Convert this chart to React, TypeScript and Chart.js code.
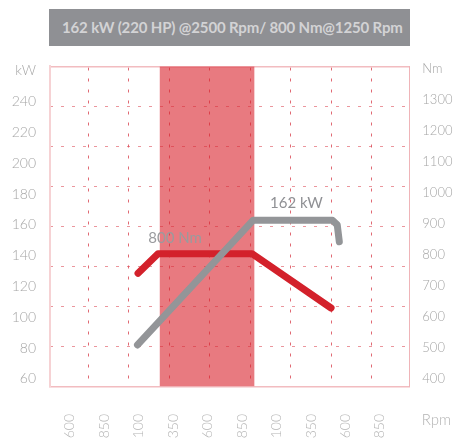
import React, { useEffect, useRef } from "react";
import { Chart, registerables } from "chart.js";

Chart.register(...registerables);

// ---- data ----
const titleText = "162 kW (220 HP) @2500 Rpm/ 800 Nm@1250 Rpm";
const rpmTicks = [600, 850, 1100, 1350, 1600, 1850, 2100, 2350, 2600, 2850];
const kwTicks = [60, 80, 100, 120, 140, 160, 180, 200, 220, 240, 260];
const nmTicks = [400, 500, 600, 700, 800, 900, 1000, 1100, 1200, 1300, 1400];
const kwUnitTick = 260;
const nmUnitTick = 1400;

const powerRpm = [1090, 1930, 2505, 2540, 2555];
const powerKw = [82, 163, 163, 160, 149];
const torqueRpm = [1094, 1239, 1921, 2495];
const torqueNm = [740, 803, 803, 628];
const bandRpm = [1250, 1940];

const powerLabel = { text: "162 kW", rpm: 2052, kw: 174 };
const torqueLabel = { text: "800 Nm", rpm: 1168, nm: 853 };

export default function App() {
  const ref = useRef<HTMLCanvasElement | null>(null);

  useEffect(() => {
    const canvas = ref.current;
    if (!canvas) return;

    const annotations = {
      id: "annotations",
      afterDatasetsDraw(chart: any) {
        const { ctx, scales, chartArea } = chart;
        ctx.save();
        ctx.textBaseline = "middle";
        ctx.textAlign = "left";
        ctx.font = "15px Lato";
        ctx.fillStyle = "#9a9b9e";
        ctx.fillText(
          torqueLabel.text,
          scales.x.getPixelForValue(torqueLabel.rpm),
          scales.y1.getPixelForValue(torqueLabel.nm)
        );
        ctx.fillStyle = "#8f9094";
        ctx.fillText(
          powerLabel.text,
          scales.x.getPixelForValue(powerLabel.rpm),
          scales.y.getPixelForValue(powerLabel.kw)
        );
        ctx.font = "300 15px Lato";
        ctx.fillStyle = "#b3b3b3";
        ctx.fillText("Rpm", chartArea.right + 12.4, chartArea.bottom + 33.5);
        ctx.restore();
      },
    };

    const pinkGridV = "rgba(214, 55, 68, 0.75)";
    const pinkGridH = "rgba(222, 80, 92, 0.6)";

    const chart = new Chart(canvas, {
      type: "line",
      data: {
        datasets: [
          {
            label: "kW",
            data: powerRpm.map((x, i) => ({ x, y: powerKw[i] })),
            xAxisID: "x",
            yAxisID: "y",
            borderColor: "#939598",
            borderWidth: 7,
            borderCapStyle: "round",
            borderJoinStyle: "round",
            pointRadius: 0,
            fill: false,
          },
          {
            label: "Nm",
            data: torqueRpm.map((x, i) => ({ x, y: torqueNm[i] })),
            xAxisID: "x",
            yAxisID: "y1",
            borderColor: "#d3212b",
            borderWidth: 7,
            borderCapStyle: "round",
            borderJoinStyle: "round",
            pointRadius: 0,
            fill: false,
          },
          {
            label: "band",
            data: bandRpm.map((x) => ({ x, y: 8 })),
            xAxisID: "x",
            yAxisID: "yg",
            borderWidth: 0,
            borderColor: "rgba(0,0,0,0)",
            backgroundColor: "rgba(218, 40, 50, 0.62)",
            pointRadius: 0,
            fill: "start",
          },
        ],
      },
      options: {
        animation: false,
        responsive: false,
        maintainAspectRatio: false,
        events: [],
        layout: { padding: { top: 66.3, left: 0, right: 0, bottom: 0 } },
        plugins: {
          legend: { display: false },
          tooltip: { enabled: false },
          title: { display: false },
        },
        scales: {
          x: {
            type: "linear",
            position: "bottom",
            min: 455,
            max: 3063,
            afterBuildTicks: (axis: any) => {
              axis.ticks = rpmTicks.map((v) => ({ value: v }));
            },
            afterFit: (axis: any) => {
              axis.height = 52.5;
            },
            grid: { display: false, drawTicks: false },
            border: { display: true, color: "#f2bcc0", width: 1.5 },
            ticks: {
              autoSkip: false,
              minRotation: 90,
              maxRotation: 90,
              padding: 27.5,
              color: "#b4b4b4",
              font: { family: "Lato", size: 14, weight: "300" },
              callback: (v: any) => String(v),
            },
          },
          xg: {
            type: "linear",
            position: "top",
            min: -0.946,
            max: 7.926,
            afterFit: (axis: any) => {
              axis.height = 0;
            },
            grid: {
              display: true,
              drawTicks: false,
              color: (c: any) => (Number.isInteger(c.tick?.value) ? pinkGridV : "rgba(0,0,0,0)"),
              lineWidth: 1,
            },
            border: { display: true, color: "#f2bcc0", width: 1.5, dash: [3, 8] },
            ticks: { display: false, stepSize: 1, includeBounds: false },
          },
          y: {
            type: "linear",
            position: "left",
            min: 55,
            max: 263,
            afterBuildTicks: (axis: any) => {
              axis.ticks = kwTicks.map((v) => ({ value: v }));
            },
            afterFit: (axis: any) => {
              axis.width = 50;
            },
            grid: { display: false, drawTicks: false },
            border: { display: true, color: "#f6d2d4", width: 2 },
            ticks: {
              padding: 14,
              color: "#a6a6a6",
              font: { family: "Lato", size: 14, weight: "300" },
              callback: (v: any) => (v === kwUnitTick ? "kW" : String(v)),
            },
          },
          yg: {
            type: "linear",
            position: "left",
            min: 0,
            max: 8,
            afterFit: (axis: any) => {
              axis.width = 0;
            },
            grid: {
              display: true,
              drawTicks: false,
              color: (c: any) =>
                c.tick && c.tick.value > 0 && c.tick.value < 8 ? pinkGridH : "rgba(0,0,0,0)",
              lineWidth: 1,
            },
            border: { display: false, dash: [3, 8] },
            ticks: { display: false, stepSize: 1 },
          },
          y1: {
            type: "linear",
            position: "right",
            min: 375,
            max: 1407,
            afterBuildTicks: (axis: any) => {
              axis.ticks = nmTicks.map((v) => ({ value: v }));
            },
            afterFit: (axis: any) => {
              axis.width = 44.7;
            },
            grid: { display: false, drawTicks: false },
            border: { display: true, color: "#efb4b8", width: 1 },
            ticks: {
              padding: 13,
              color: "#a6a6a6",
              font: { family: "Lato", size: 13, weight: "300" },
              callback: (v: any) => (v === nmUnitTick ? "Nm" : String(v)),
            },
          },
        },
      } as any,
      plugins: [annotations],
    });

    return () => chart.destroy();
  }, []);

  return (
    <div
      style={{
        position: "fixed",
        left: 0,
        top: 0,
        width: 454,
        height: 439,
        background: "#ffffff",
        overflow: "hidden",
      }}
    >
      <canvas ref={ref} width={454} height={439} style={{ display: "block", width: 454, height: 439 }} />
      <div
        style={{
          position: "absolute",
          left: 49,
          top: 9,
          width: 361,
          height: 37,
          boxSizing: "border-box",
          background: "#8f9094",
          color: "#d3d3d5",
          fontFamily: "Lato, sans-serif",
          fontWeight: 700,
          fontSize: 15,
          letterSpacing: "-0.15px",
          lineHeight: "37px",
          paddingLeft: 13,
          whiteSpace: "nowrap",
          overflow: "hidden",
        }}
      >
        {titleText}
      </div>
    </div>
  );
}
